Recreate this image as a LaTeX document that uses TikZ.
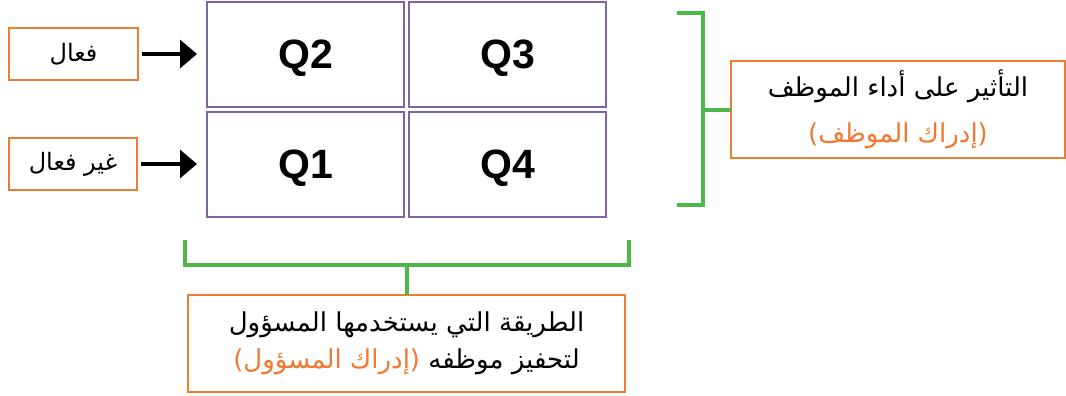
\documentclass[tikz,border=0pt]{standalone}
\usepackage{fontspec}
\usetikzlibrary{arrows.meta}
\TeXXeTstate=1
\newfontfamily\arabicfont[Script=Arabic]{DejaVu Sans}
\newfontfamily\qfont{Liberation Sans}
\definecolor{qpurple}{HTML}{8064A2}
\definecolor{borange}{HTML}{ED7D31}
\definecolor{torange}{HTML}{F07830}
\definecolor{bgreen}{HTML}{4DB848}
\tikzset{
  qbox/.style={draw=qpurple, line width=2pt, outer sep=0pt, minimum width=197pt, minimum height=105pt, inner sep=0pt, text depth=0pt, anchor=north west, font={\qfont\bfseries\fontsize{41}{44}\selectfont}},
  lblbox/.style={draw=borange, line width=2.2pt, outer sep=0pt, inner sep=0pt, anchor=north west, font={\arabicfont\fontsize{24}{28}\selectfont}},
  txtbox/.style={draw=borange, line width=2.2pt, outer sep=0pt, inner sep=0pt, anchor=north west, align=center, font={\arabicfont\fontsize{26}{46}\selectfont}},
  brk/.style={draw=bgreen, line width=4pt},
  arr/.style={draw=black, line width=3.5pt, -{Triangle[length=17pt,width=28pt]}}
}
\begin{document}
\begin{tikzpicture}[x=1pt,y=-1pt]
\useasboundingbox (0,0) rectangle (1066,396);
% quadrants
\node[qbox] (q2) at (207,2) {Q2};
\node[qbox] (q3) at (409,2) {Q3};
\node[qbox] (q1) at (207,112) {Q1};
\node[qbox] (q4) at (409,112) {Q4};
% left labels
\node[lblbox, minimum width=129pt, minimum height=52pt] (l1) at (9,28) {\beginR فعال\endR};
\node[lblbox, minimum width=128pt, minimum height=52pt] (l2) at (9,138) {\beginR غير فعال\endR};
\draw[arr, shorten <=4pt, shorten >=10pt] (l1.east) -- (l1.east -| q2.west);
\draw[arr, shorten <=4pt, shorten >=10pt] (l2.east) -- (l2.east -| q1.west);
% right box and bracket
\node[txtbox, minimum width=334pt, minimum height=97pt] (rb) at (731,61)
  {\beginR التأثير على أداء الموظف\endR\\ \textcolor{torange}{\beginR(إدراك الموظف)\endR}};
\coordinate (rt) at (677,13);
\coordinate (rtc) at (703,13);
\coordinate (rbc) at (703,205);
\coordinate (rbe) at (677,205);
\coordinate (rm) at (rtc |- rb.west);
\draw[brk] (rt) -- (rtc) -- (rbc) -- (rbe);
\draw[brk] (rm) -- (rb.west);
% bottom box and bracket
\node[txtbox, minimum width=437pt, minimum height=97pt, font={\arabicfont\fontsize{26}{37}\selectfont}] (bb) at (188,295)
  {\beginR الطريقة التي يستخدمها المسؤول\endR\\ \textcolor{torange}{\beginR(إدراك المسؤول)\endR} \beginR لتحفيز موظفه\endR};
\coordinate (bl) at (185,240);
\coordinate (blc) at (185,265);
\coordinate (brc) at (629,265);
\coordinate (br) at (629,240);
\coordinate (bm) at (bb.north |- blc);
\draw[brk] (bl) -- (blc) -- (brc) -- (br);
\draw[brk] (bm) -- (bb.north);
\end{tikzpicture}
\end{document}
